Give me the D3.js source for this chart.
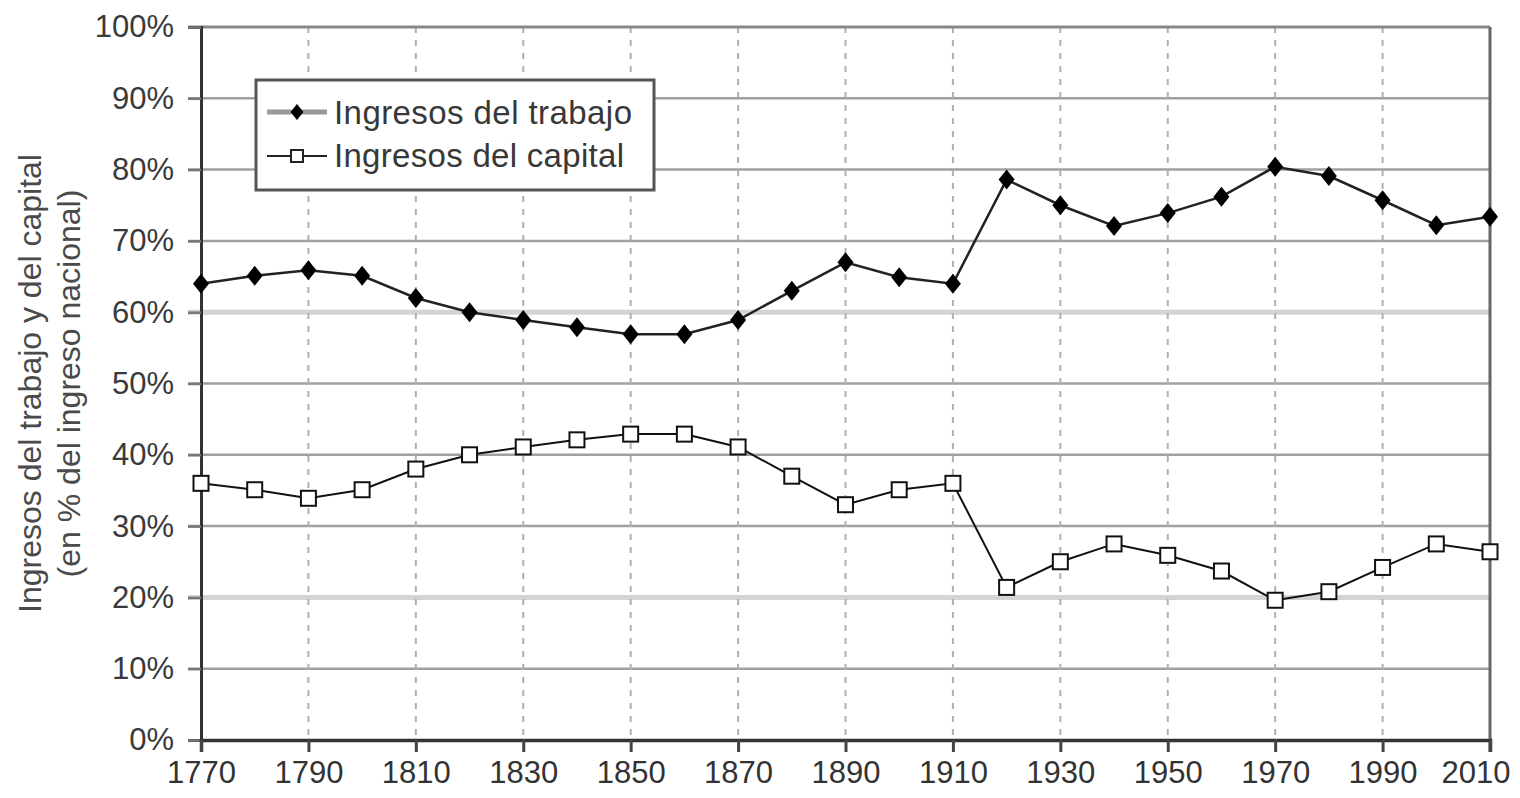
<!DOCTYPE html>
<html><head><meta charset="utf-8">
<script src="https://cdn.jsdelivr.net/npm/d3@7"></script>
<style>
html,body{margin:0;padding:0;background:#fff;}
svg{display:block;}
</style></head>
<body>
<svg id="chart" width="1520" height="798"></svg>
<script>
const years = [1770,1780,1790,1800,1810,1820,1830,1840,1850,1860,1870,1880,1890,1900,1910,1920,1930,1940,1950,1960,1970,1980,1990,2000,2010];
const trabajo = [64.0,65.1,65.9,65.1,62.0,60.0,58.9,57.9,56.9,56.9,58.9,63.0,67.0,64.9,64.0,78.6,75.0,72.1,73.9,76.2,80.4,79.1,75.7,72.2,73.4];
const capital = [36.0,35.1,33.9,35.1,38.0,40.0,41.1,42.1,42.9,42.9,41.1,37.0,33.0,35.1,36.0,21.4,25.0,27.5,25.9,23.7,19.6,20.8,24.2,27.5,26.4];
const xTickYears = [1770,1790,1810,1830,1850,1870,1890,1910,1930,1950,1970,1990,2010];
const yTicks = [0,10,20,30,40,50,60,70,80,90,100];
const seriesNames = ["Ingresos del trabajo","Ingresos del capital"];
const yTitle = ["Ingresos del trabajo y del capital","(en % del ingreso nacional)"];

(function(){
const svg = d3.select("#chart");
const pL = 201, pR = 1490, pT = 27, pB = 740;
const x = d3.scaleLinear().domain([1770,2010]).range([pL,pR]);
const y = d3.scaleLinear().domain([0,100]).range([pB,pT]);
const tickFont = "'Liberation Sans Narrow','Arial Narrow',sans-serif";
const textFont = "'Liberation Sans',Arial,sans-serif";

// horizontal gridlines
const hg = svg.append("g");
yTicks.filter(v=>v>0 && v<100).forEach(v=>{
  const light = (v===20||v===60);
  hg.append("line").attr("x1",pL-13).attr("x2",pR).attr("y1",y(v)).attr("y2",y(v))
    .attr("stroke", light?"#d4d4d4":"#a0a0a0").attr("stroke-width", light?5:2.5);
});
// vertical dashed gridlines
const vg = svg.append("g");
xTickYears.filter(v=>v>1770 && v<2010).forEach(v=>{
  vg.append("line").attr("x1",x(v)).attr("x2",x(v)).attr("y1",pT).attr("y2",pB)
    .attr("stroke","#b0b0b0").attr("stroke-width",2).attr("stroke-dasharray","6,7");
});
// frame
svg.append("line").attr("x1",pL-13).attr("x2",pR).attr("y1",y(100)).attr("y2",y(100)).attr("stroke","#888").attr("stroke-width",3);
svg.append("line").attr("x1",pR).attr("x2",pR).attr("y1",pT).attr("y2",pB+12).attr("stroke","#666").attr("stroke-width",3);

// axes
const yAxis = d3.axisLeft(y).tickValues(yTicks).tickSize(13).tickPadding(14).tickFormat(d=>d+"%");
const gy = svg.append("g").attr("transform",`translate(${pL},0)`).call(yAxis);
gy.select(".domain").attr("stroke","#333").attr("stroke-width",3);
gy.selectAll(".tick line").attr("stroke","#777").attr("stroke-width",2.5);
gy.selectAll("text").attr("font-family",tickFont).attr("font-size",31).attr("fill","#3a3a3a");

const xAxis = d3.axisBottom(x).tickValues(xTickYears).tickSize(12).tickPadding(9).tickFormat(d3.format("d"));
const gx = svg.append("g").attr("transform",`translate(0,${pB})`).call(xAxis);
gx.select(".domain").attr("stroke","#333").attr("stroke-width",3.5);
gx.selectAll(".tick line").attr("stroke","#444").attr("stroke-width",3);
gx.selectAll("text").attr("font-family",tickFont).attr("font-size",31).attr("fill","#333");
gx.selectAll(".tick").filter(d=>d===2010).select("text").attr("text-anchor","end").attr("x",20);

// y title
const tg = svg.append("g").attr("transform",`translate(0,${(pT+pB)/2})`);
tg.append("text").attr("transform","translate(41,0) rotate(-90)").attr("text-anchor","middle")
  .attr("font-family",textFont).attr("font-size",32).attr("fill","#4a4a4a").text(yTitle[0]);
tg.append("text").attr("transform","translate(80,0) rotate(-90)").attr("text-anchor","middle")
  .attr("font-family",textFont).attr("font-size",32).attr("fill","#4a4a4a").text(yTitle[1]);

// lines
const line = d3.line().x((d,i)=>x(years[i])).y(d=>y(d));
svg.append("path").datum(trabajo).attr("d",line).attr("fill","none").attr("stroke","#222").attr("stroke-width",2.5);
svg.append("path").datum(capital).attr("d",line).attr("fill","none").attr("stroke","#111").attr("stroke-width",2);

const diamond = (cx,cy,r)=>`M${cx},${cy-r}L${cx+r*0.8},${cy}L${cx},${cy+r}L${cx-r*0.8},${cy}Z`;
svg.append("g").selectAll("path").data(trabajo).join("path")
  .attr("d",(d,i)=>diamond(x(years[i]),y(d),10)).attr("fill","#000");
const s = 15;
svg.append("g").selectAll("rect").data(capital).join("rect")
  .attr("x",(d,i)=>x(years[i])-s/2).attr("y",d=>y(d)-s/2).attr("width",s).attr("height",s)
  .attr("fill","#fff").attr("stroke","#111").attr("stroke-width",2);

// legend
const lg = svg.append("g");
lg.append("rect").attr("x",256).attr("y",80).attr("width",398).attr("height",110)
  .attr("fill","#fff").attr("stroke","#555").attr("stroke-width",3);
lg.append("line").attr("x1",267).attr("x2",327).attr("y1",112).attr("y2",112).attr("stroke","#999").attr("stroke-width",5);
lg.append("path").attr("d",diamond(297,112,8)).attr("fill","#000");
lg.append("line").attr("x1",267).attr("x2",327).attr("y1",156).attr("y2",156).attr("stroke","#222").attr("stroke-width",2);
lg.append("rect").attr("x",291).attr("y",150).attr("width",12).attr("height",12).attr("fill","#fff").attr("stroke","#222").attr("stroke-width",2);
lg.append("text").attr("x",334).attr("y",124).attr("font-family",textFont).attr("font-size",33).attr("fill","#383838").attr("textLength",298).text(seriesNames[0]);
lg.append("text").attr("x",334).attr("y",167).attr("font-family",textFont).attr("font-size",33).attr("fill","#383838").attr("textLength",290).text(seriesNames[1]);
})();
</script>
</body></html>
